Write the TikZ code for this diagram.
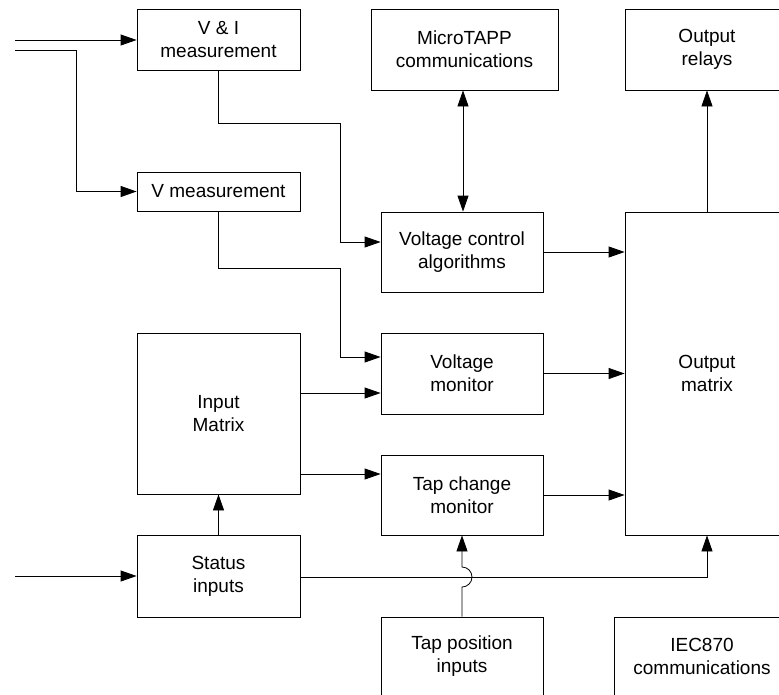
\documentclass[tikz,border=0pt]{standalone}
\usepackage{fontspec}
\setmainfont{Liberation Sans}
\usetikzlibrary{arrows.meta}
\begin{document}
\begin{tikzpicture}[x=1pt, y=-1pt, line width=0.8pt,
                    block/.style={draw, align=center, inner sep=2pt,
                                  font=\fontsize{19}{23}\selectfont},
                    arr/.style={-{Triangle[length=16pt, width=11pt]}},
                    arrboth/.style={{Triangle[length=16pt, width=11pt]}-{Triangle[length=16pt, width=11pt]}}]
    \useasboundingbox (0,0) rectangle (779,694);
    \clip (0,0) rectangle (779,694);

    \node[block, minimum width=163pt, minimum height=61pt] (vim) at (218.5,39.5) {V \& I\\measurement};
    \node[block, minimum width=163pt, minimum height=39pt] (vm) at (218.5,191.5) {V measurement};
    \node[block, minimum width=187pt, minimum height=81pt] (micro) at (464.5,49.5) {MicroTAPP\\communications};
    \node[block, minimum width=164pt, minimum height=81pt] (relays) at (707,49.5) {Output\\relays};
    \node[block, minimum width=162pt, minimum height=80pt] (vca) at (462,252) {Voltage control\\algorithms};
    \node[block, minimum width=162pt, minimum height=81pt] (vmon) at (462,373.5) {Voltage\\monitor};
    \node[block, minimum width=162pt, minimum height=80pt] (tcm) at (462,495) {Tap change\\monitor};
    \node[block, minimum width=164pt, minimum height=323pt] (omat) at (707,373.5) {Output\\matrix};
    \node[block, minimum width=163pt, minimum height=161pt] (imat) at (218.5,413.5) {Input\\Matrix};
    \node[block, minimum width=163pt, minimum height=82pt] (stat) at (218.5,576) {Status\\inputs};
    \node[block, minimum width=162pt, minimum height=78pt] (tpi) at (462,656) {Tap position\\inputs};
    \node[block, minimum width=176pt, minimum height=78pt] (iec) at (702,656) {IEC870\\communications};

    \coordinate (in1) at (15,40);
    \coordinate (in2) at (15,50);
    \coordinate (in3) at (15,576);

    % measurement inputs
    \draw[arr] (in1) -- (in1 -| vim.west);
    \draw[arr] (in2) -- ++(61,0) |- (vm.west);
    \draw[arr] (vim.south) |- (340,123) |- ([yshift=10pt]vca.west);
    \draw[arr] (vm.south) |- (340,268) |- ([yshift=16.5pt]vmon.west);
    \draw[arrboth] (vca.north -| 463,0) -- (micro.south -| 463,0);

    % into the output matrix
    \draw[arr] (vca.east) -- (vca.east -| omat.west);
    \draw[arr] (vmon.east) -- (vmon.east -| omat.west);
    \draw[arr] (tcm.east) -- (tcm.east -| omat.west);
    \draw[arr] (omat.north) -- (relays.south);

    % status side
    \draw[arr] (imat.east |- 0,393) -- (vmon.west |- 0,393);
    \draw[arr] (imat.east |- 0,474) -- (tcm.west |- 0,474);
    \draw[arr] (in3) -- (stat.west);
    \draw[arr] (stat.north) -- (imat.south);
    \draw[arr] (stat.east |- 0,577) -| (omat.south);
    \draw[arr] (tpi.north) -- (462,587) arc[start angle=-90, end angle=90, radius=10pt] -- (tcm.south);
\end{tikzpicture}
\end{document}
